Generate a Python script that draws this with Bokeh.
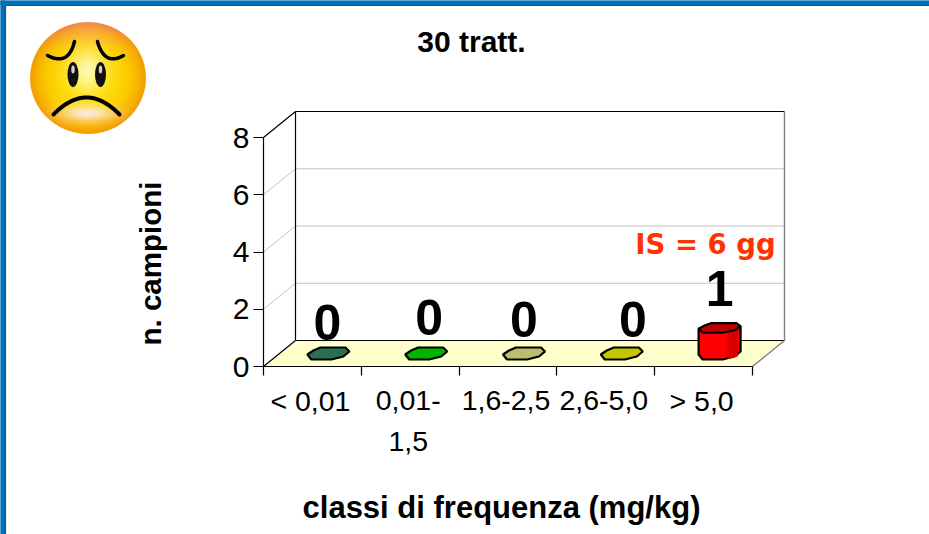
import numpy as np
from bokeh.core.properties import value
from bokeh.embed import file_html
from bokeh.models import FixedTicker, LinearAxis, Range1d
from bokeh.plotting import figure
from bokeh.resources import INLINE

categories = ["< 0,01", "0,01-\n1,5", "1,6-2,5", "2,6-5,0", "> 5,0"]
counts = [0, 0, 0, 0, 1]
count_labels = ["0", "0", "0", "0", "1"]
bar_colors = ["#2a7050", "#00b400", "#bdbd6e", "#c4c400", "#ff0000"]
y_ticks = [0, 2, 4, 6, 8]
title_text = "30 tratt."
y_title = "n. campioni"
x_title = "classi di frequenza (mg/kg)"
note_text = "IS = 6 gg"

W, H = 929, 534
X0, X5 = 263, 752          # pixel columns of class edges 0 and 5
Y0, Y8 = 366, 137          # pixel rows of counts 0 and 8
PX = (X5 - X0) / 5
PY = (Y0 - Y8) / 8
DX, DY = 32 / PX, 26 / PY  # 3-D depth in data units

p = figure(width=W, height=H, output_backend="svg", toolbar_location=None,
           x_range=Range1d(-X0 / PX, (W - X0) / PX),
           y_range=Range1d(-(H - Y0) / PY, Y0 / PY),
           min_border=0, outline_line_color=None, background_fill_color="white",
           x_axis_type=None, y_axis_type=None)
p.xgrid.visible = False
p.ygrid.visible = False
p.extra_x_ranges = {"px": Range1d(0, W)}
p.extra_y_ranges = {"py": Range1d(H, 0)}
SCR = dict(x_range_name="px", y_range_name="py")

# page border
p.quad(left=[0, 0], right=[W, 4.5], top=[0, 0], bottom=[4.5, H], color="#0070b8", **SCR)
p.segment(x0=[5, 5], y0=[5, 5], x1=[W, 5], y1=[5, H], line_color="#3a4a55", line_width=1.2, **SCR)

# smiley
yy, xx = np.mgrid[0:140, 0:140]
cx, cy, rx, ry = 69.5, 69.5, 58.5, 56.5
r = np.sqrt(((xx - cx) / rx) ** 2 + ((yy - cy) / ry) ** 2)
t = np.clip(r, 0, 1)
R = 255 - 12 * t ** 3
G = 226 - 15 * t - 60 * t ** 4
B = 0 * t
glow = np.exp(-(((xx - 69) / 18) ** 2 + ((yy - 62) / 22) ** 2))
chin = np.exp(-(((xx - 69) / 28) ** 2 + ((yy - 105) / 8) ** 2))
top = np.clip((40 - yy) / 28, 0, 1)
G = G + 25 * glow + 25 * chin - 25 * top
B = B + 170 * glow + 210 * chin + 80 * top
alpha = np.clip((1 - r) * 50, 0, 1) * 255
img = np.dstack([np.clip(R, 0, 255), np.clip(G, 0, 255), np.clip(B, 0, 255), alpha]).astype(np.uint8)
rgba = img.view(dtype=np.uint32).reshape(img.shape[:2])
p.image_rgba(image=[rgba], x=[17.5], y=[7.5], dw=[140], dh=[140], **SCR)

def bez(a, b, c):
    s = np.linspace(0, 1, 24)
    return ((1 - s) ** 2 * a[0] + 2 * s * (1 - s) * b[0] + s ** 2 * c[0],
            (1 - s) ** 2 * a[1] + 2 * s * (1 - s) * b[1] + s ** 2 * c[1])

for a, b, c in [((47, 55), (68, 66), (74, 41)), ((97, 41), (104, 66), (123, 55))]:
    bx, by = bez(a, b, c)
    p.line(bx, by, line_color="black", line_width=3.5, line_cap="round", **SCR)
p.ellipse(x=[72.5, 100], y=[74, 74], width=[11, 11], height=[25, 25], fill_color="#111111",
          line_color=None, **SCR)
p.ellipse(x=[72.5, 100], y=[69, 69], width=[3.5, 3.5], height=[8, 8], fill_color="#cfcfcf",
          line_color=None, **SCR)
mx, my = bez((53, 114), (86, 80), (119, 114))
p.line(mx, my, line_color="black", line_width=4, line_cap="round", **SCR)

# 3-D box, floor and grid
grid_vals = y_ticks[1:-1]
p.patch([0, DX, 5 + DX, 5], [0, DY, DY, 0], fill_color="#ffffcc", line_color=None)
p.segment(x0=[0] * 3, y0=grid_vals, x1=[DX] * 3, y1=[v + DY for v in grid_vals],
          line_color="#c4c4c4", line_width=1)
p.segment(x0=[DX] * 3, y0=[v + DY for v in grid_vals], x1=[5 + DX] * 3,
          y1=[v + DY for v in grid_vals], line_color="#c4c4c4", line_width=1)
p.line([0, DX, DX], [8, 8 + DY, DY], line_color="black", line_width=1.2)
p.line([DX, 5 + DX], [8 + DY, 8 + DY], line_color="black", line_width=1.2)
p.line([DX, 0], [DY, 0], line_color="black", line_width=1.2)
p.line([DX, 5 + DX], [DY, DY], line_color="black", line_width=1.2)
p.line([5 + DX, 5 + DX, 5], [8 + DY, DY, 0], line_color="#808080", line_width=1.4)

yaxis = LinearAxis(fixed_location=0, ticker=FixedTicker(ticks=y_ticks), bounds=(0, 8),
                   major_tick_in=0, major_tick_out=10, minor_tick_line_color=None,
                   major_label_text_font="Liberation Sans", major_label_text_font_size="30px",
                   major_label_standoff=4, axis_line_width=1.2, major_tick_line_width=1.2,
                   major_label_text_color="black")
p.add_layout(yaxis, "left")
xaxis = LinearAxis(fixed_location=0, ticker=FixedTicker(ticks=list(range(6))), bounds=(0, 5),
                   major_tick_in=0, major_tick_out=9, minor_tick_line_color=None,
                   major_label_overrides={i: "" for i in range(6)}, axis_line_width=1.2,
                   major_tick_line_width=1.2)
p.add_layout(xaxis, "below")

# flattened cylinders (pixel outline of one disc, scaled to data units)
disc_x = np.array([-21, -15, -8, 17, 21, 15, 3, -17]) / PX
disc_y = np.array([-1, 3, 6, 6, 2, -3, -6, -6]) / PY
top_y = disc_y * 0.8
centers = [i + 0.5 + DX / 2 for i in range(len(counts))]
base = DY / 2
SHRINK = 3 / PY   # the cylinder top sits a little below its nominal height
for c, v, col in zip(centers, counts, bar_colors):
    if v > 0:
        h = v - SHRINK
        order = [0, 7, 6, 5, 4]
        sx = list(c + disc_x[order]) + [c + disc_x[4], c + disc_x[0]]
        sy = list(base + disc_y[order]) + [base + h + top_y[4], base + h + top_y[0]]
        p.patch(sx, sy, fill_color=col, line_color="black", line_width=2.2)
        p.patch([c + 0.08, c + 0.19, c + 0.19, c + 0.08],
                [base - 0.2, base - 0.1, base + h, base + h], fill_color="#d80000", line_color=None)
        p.patch(c + disc_x, base + h + top_y, fill_color="#c00000", line_color="black",
                line_width=2.2)
    else:
        p.patch(c + disc_x, base + disc_y, fill_color=col, line_color="black", line_width=2.2)

# count labels, placed above each cylinder
label_nudge_x = [-1, 3, 0, 11, 0]
label_nudge_y = [1, -4, -2, -2, -4]
p.text(x=centers, y=[base + v for v in counts], text=count_labels,
       x_offset=label_nudge_x, y_offset=[n - 15 for n in label_nudge_y],
       text_font=value("Liberation Sans"), text_font_style="bold", text_font_size="50px",
       text_align="center", text_baseline="bottom", text_color="black")

# class labels, one text per line
lines = [(i + 0.5, s, k) for i, c in enumerate(categories) for k, s in enumerate(c.split("\n"))]
p.text(x=[l[0] for l in lines], y=[0] * len(lines), text=[l[1] for l in lines], x_offset=-2,
       y_offset=[34 + 41 * l[2] for l in lines],
       text_font=value("Liberation Sans"), text_font_size="28.5px", text_align="center",
       text_baseline="middle", text_color="black")

def label(x, y, s, size, color="black", font="Liberation Sans", angle=0.0):
    p.text(x=[x], y=[y], text=[s], text_font=value(font), text_font_style="bold",
           text_font_size=size, text_align="center", text_baseline="middle",
           text_color=color, angle=angle, **SCR)

label(471, 41, title_text, "30px")
label(150, 263, y_title, "29.5px", angle=np.pi / 2)
label(501, 507, x_title, "31px")
label(705, 243, note_text, "27.5px", color="#ff3300", font="DejaVu Sans")

open("out.html", "w").write(file_html(p, INLINE))
